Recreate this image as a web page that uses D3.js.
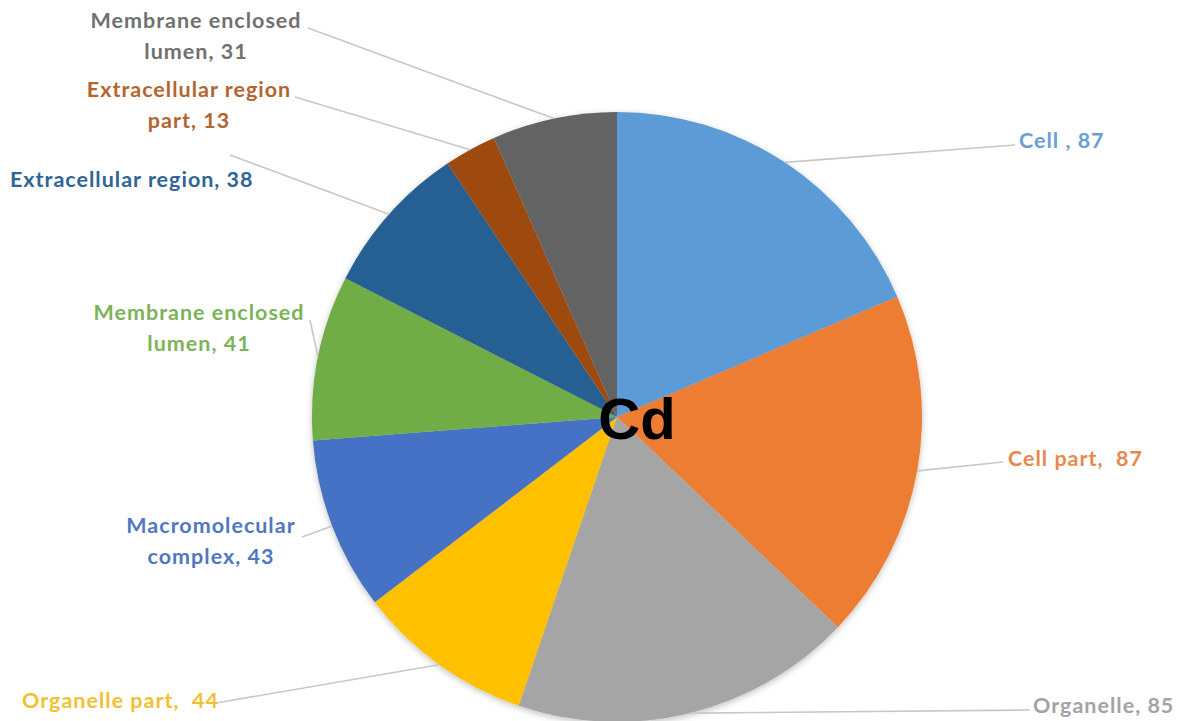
<!DOCTYPE html>
<html>
<head>
<meta charset="utf-8">
<script src="https://cdn.jsdelivr.net/npm/d3@7/dist/d3.min.js"></script>
<style>
  body { margin: 0; background: #fff; }
  text { font-family: Lato, "Open Sans", sans-serif; font-weight: bold; }
</style>
</head>
<body>
<div id="wrapper"></div>
<script>
// data
var categories = ["Cell", "Cell part", "Organelle", "Organelle part", "Macromolecular complex",
    "Membrane enclosed lumen", "Extracellular region", "Extracellular region part", "Membrane enclosed lumen"]
var values = [87, 87, 85, 44, 43, 41, 38, 13, 31]
var labelLines = [
    ["Cell , 87"],
    ["Cell part,  87"],
    ["Organelle, 85"],
    ["Organelle part,  44"],
    ["Macromolecular", "complex, 43"],
    ["Membrane enclosed", "lumen, 41"],
    ["Extracellular region, 38"],
    ["Extracellular region", "part, 13"],
    ["Membrane enclosed", "lumen, 31"]
]
var sliceColors = ["#5B9BD5", "#ED7D31", "#A5A5A5", "#FFC000", "#4472C4", "#70AD47", "#255E91", "#9E480E", "#636363"]
var textColors = ["#6A9FD2", "#E8894A", "#A3A3A3", "#F0C132", "#5077C0", "#7DB358", "#2F6496", "#B3652E", "#707070"]

// label layout: text anchor point, alignment, where the leader line ends
var labelLayout = [
    {x: 1019, y: 148, anchor: "start", lx: 1015, ly: 145},
    {x: 1008, y: 466, anchor: "start", lx: 1003, ly: 462},
    {x: 1033, y: 713, anchor: "start", lx: 1030, ly: 710},
    {x: 22, y: 708, anchor: "start", lx: 216, ly: 703},
    {x: 211, y: 533, anchor: "middle", lx: 302, ly: 537},
    {x: 199, y: 320, anchor: "middle", lx: 310, ly: 320},
    {x: 10, y: 187, anchor: "start", lx: 230, ly: 155},
    {x: 189, y: 97, anchor: "middle", lx: 295, ly: 97},
    {x: 196, y: 28, anchor: "middle", lx: 308, ly: 28}
]

var width = 1186
var height = 721
var cx = 617
var cy = 417
var radius = 305

var rows = categories.map((c, i) => ({
    category: c,
    value: values[i],
    lines: labelLines[i],
    color: sliceColors[i],
    textColor: textColors[i],
    layout: labelLayout[i]
}))

const svg = d3.select("#wrapper")
    .append("svg")
    .attr("width", width)
    .attr("height", height)

var defs = svg.append("defs")
var shadow = defs.append("filter").attr("id", "shadow")
    .attr("x", "-10%").attr("y", "-10%").attr("width", "120%").attr("height", "120%")
shadow.append("feDropShadow")
    .attr("dx", 0).attr("dy", 2).attr("stdDeviation", 3)
    .attr("flood-color", "#000").attr("flood-opacity", 0.25)

var pie = d3.pie()
    .value(d => d.value)
    .sort(null)

var arc = d3.arc()
    .innerRadius(0)
    .outerRadius(radius)

var arcs = pie(rows)

const g = svg.append("g")
    .attr("transform", `translate(${cx},${cy})`)

g.append("g")
    .attr("filter", "url(#shadow)")
    .selectAll("path")
    .data(arcs)
    .enter()
    .append("path")
    .attr("d", arc)
    .style("fill", d => d.data.color)

// leader lines from the arc's middle to the label
function edgePoint(d) {
    var a = (d.startAngle + d.endAngle) / 2
    return [cx + radius * Math.sin(a), cy - radius * Math.cos(a)]
}

svg.append("g")
    .selectAll("line")
    .data(arcs)
    .enter()
    .append("line")
    .attr("x1", d => edgePoint(d)[0])
    .attr("y1", d => edgePoint(d)[1])
    .attr("x2", d => d.data.layout.lx)
    .attr("y2", d => d.data.layout.ly)
    .style("stroke", "#c8c8c8")
    .style("stroke-width", 1.6)

const labels = svg.append("g")
    .selectAll("text")
    .data(arcs)
    .enter()
    .append("text")
    .attr("x", d => d.data.layout.x)
    .attr("y", d => d.data.layout.y)
    .attr("text-anchor", d => d.data.layout.anchor)
    .style("font-size", "21.5px")
    .style("letter-spacing", "1px")
    .style("white-space", "pre")
    .style("fill", d => d.data.textColor)

labels.selectAll("tspan")
    .data(d => d.data.lines.map(l => ({line: l, x: d.data.layout.x})))
    .enter()
    .append("tspan")
    .attr("x", d => d.x)
    .attr("dy", (d, i) => i == 0 ? 0 : 31)
    .text(d => d.line)

svg.append("text")
    .attr("x", cx + 20)
    .attr("y", cy + 22)
    .attr("text-anchor", "middle")
    .style("font-family", "Arial, 'Liberation Sans', sans-serif")
    .style("font-size", "58px")
    .style("fill", "#000")
    .text("Cd")
</script>
</body>
</html>
